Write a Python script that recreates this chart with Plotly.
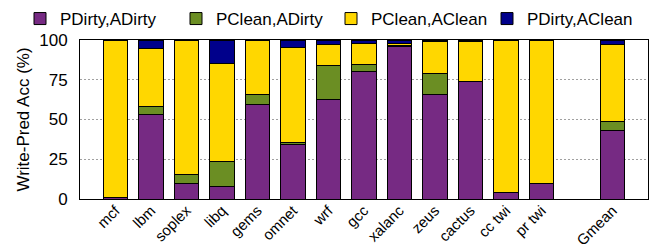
import plotly.graph_objects as go

categories = ["mcf", "lbm", "soplex", "libq", "gems", "omnet", "wrf", "gcc",
              "xalanc", "zeus", "cactus", "cc twi", "pr twi", " ", "Gmean"]
pdirty_adirty = [1.0, 53.0, 9.6, 7.7, 59.3, 34.0, 62.5, 80.5, 96.0, 66.0, 73.6, 3.8, 9.6, None, 43.0]
pclean_adirty = [0.0, 5.0, 5.7, 16.0, 6.3, 1.6, 21.3, 4.0, 0.5, 12.9, 0.3, 0.0, 0.0, None, 5.6]
pclean_aclean = [99.0, 36.7, 84.7, 61.4, 33.8, 60.0, 13.2, 13.4, 1.2, 20.2, 25.2, 96.2, 90.4, None, 48.7]
pdirty_aclean = [0.0, 5.3, 0.0, 14.9, 0.6, 4.4, 3.0, 2.1, 2.3, 0.9, 0.9, 0.0, 0.0, None, 2.7]

series = [
    ("PDirty,ADirty", pdirty_adirty, "#762A83"),
    ("PClean,ADirty", pclean_adirty, "#6B8E23"),
    ("PClean,AClean", pclean_aclean, "#FFD700"),
    ("PDirty,AClean", pdirty_aclean, "#00008B"),
]
legend_text_x = [51, 207, 362, 518]  # pixel position of each legend entry's text

W, H = 651, 250
x_idx = list(range(len(categories)))
fig = go.Figure()
legend_names = ["legend", "legend2", "legend3", "legend4"]
for (name, vals, color), lg in zip(series, legend_names):
    fig.add_trace(go.Bar(
        x=x_idx, y=vals, name=name, width=0.7, legend=lg,
        marker=dict(color=color, line=dict(color="black", width=1)),
    ))

font_family = "Liberation Sans, Arial, sans-serif"
fig.update_layout(
    barmode="stack",
    width=W, height=H,
    margin=dict(l=80, r=3, t=40, b=51, autoexpand=False),
    plot_bgcolor="white", paper_bgcolor="white",
    font=dict(family=font_family, size=16, color="black"),
    showlegend=True,
)
for lg, tx in zip(legend_names, legend_text_x):
    fig.update_layout({lg: dict(
        orientation="h", xref="container", yref="container",
        x=(tx - 31) / W, xanchor="left", y=1 - 1 / H, yanchor="top",
        font=dict(size=17), itemwidth=30, bgcolor="rgba(0,0,0,0)",
    )})
fig.update_xaxes(
    tickmode="array", tickvals=x_idx, ticktext=categories, tickangle=-45,
    range=[-1, 15], showline=True, linecolor="black", linewidth=1, mirror=True,
    showgrid=False, ticks="", tickfont=dict(size=15), ticklabelstandoff=-4,
)
fig.update_yaxes(
    range=[0, 100], tickvals=[0, 25, 50, 75, 100], showline=True, linecolor="black",
    linewidth=1, mirror=True, showgrid=True, gridcolor="#A0A0A0", griddash="2px,2px",
    gridwidth=1, zeroline=False, ticks="", tickfont=dict(size=17), ticklabelstandoff=8,
    title=dict(text="Write-Pred Acc (%)", font=dict(size=17), standoff=5),
)
fig.write_html("out.html", config={"displayModeBar": False},
               post_script="document.body.style.margin='0';document.body.style.padding='0';")
